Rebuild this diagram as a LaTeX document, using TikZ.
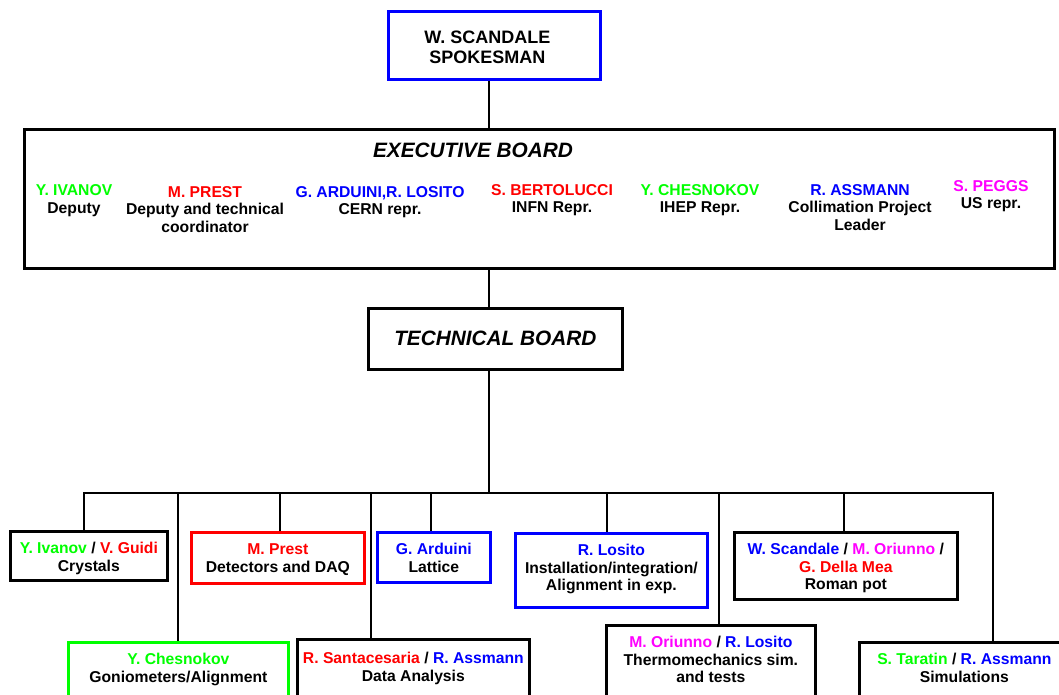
\documentclass[tikz,border=0pt]{standalone}
\usepackage{fontspec}
\setmainfont{Liberation Sans}
\usetikzlibrary{positioning}
\definecolor{eGreen}{RGB}{0,255,0}
\definecolor{eBlue}{RGB}{0,0,255}
\definecolor{eRed}{RGB}{255,0,0}
\definecolor{eMag}{RGB}{255,0,255}
\newcommand{\rows}[1]{\begin{tabular}[t]{@{}c@{}}#1\end{tabular}}
\newcommand{\gn}[1]{\textcolor{eGreen}{#1}}
\newcommand{\bl}[1]{\textcolor{eBlue}{#1}}
\newcommand{\rd}[1]{\textcolor{eRed}{#1}}
\newcommand{\mg}[1]{\textcolor{eMag}{#1}}

\begin{document}
\begin{tikzpicture}[x=1pt,y=-1pt,
    txt/.style={font=\fontsize{15.7}{17.8}\selectfont\bfseries},
    unit/.style={txt, draw, line width=2.7pt, anchor=north west, inner sep=0pt, text height=22pt},
    member/.style={txt, anchor=base, inner sep=0pt},
    board/.style={font=\fontsize{20.8}{24}\selectfont\bfseries\itshape},
    link/.style={line width=2.9pt}]
  \clip (0,0) rectangle (1059,695);
  \useasboundingbox (0,0) rectangle (1059,695);

  % top of the chart
  \node[unit, draw=eBlue, font=\fontsize{18}{20}\selectfont\bfseries, minimum width=212pt, text height=32pt, text depth=36pt] (spokes) at (387,10) {\rows{W. SCANDALE\\SPOKESMAN}\hspace*{14pt}};
  \node[draw, line width=2.7pt, anchor=north west, minimum width=1030pt, minimum height=139pt, inner sep=0pt] (exec) at (23,128) {};
  \node[board, anchor=base] (ebtitle) at (473,158) {EXECUTIVE BOARD};
  \node[member] (ivanov) at (74,196) {\rows{\gn{Y. IVANOV}\\Deputy}};
  \node[member] (prest) at (205,197) {\rows{\rd{M. PREST}\\Deputy and technical\\coordinator}};
  \node[member] (cern) at (380,197) {\rows{\bl{G. ARDUINI,R. LOSITO}\\CERN repr.}};
  \node[member] (infn) at (552,195) {\rows{\rd{S. BERTOLUCCI}\\INFN Repr.}};
  \node[member] (ihep) at (700,195) {\rows{\gn{Y. CHESNOKOV}\\IHEP Repr.}};
  \node[member] (assmann) at (860,195) {\rows{\bl{R. ASSMANN}\\Collimation Project\\Leader}};
  \node[member] (peggs) at (991,191) {\rows{\mg{S. PEGGS}\\US repr.}};
  \node[unit, board, minimum width=254pt, text height=37pt, text depth=24pt] (tech) at (367,307) {TECHNICAL BOARD};

  % working groups
  \node[unit, minimum width=157pt, text depth=27pt] (crys) at (9,530) {\rows{\gn{Y. Ivanov} / \rd{V. Guidi}\\Crystals}};
  \node[unit, draw=eGreen, minimum width=220pt, text depth=80pt] (gonio) at (67,641) {\rows{\gn{Y. Chesnokov}\\Goniometers/Alignment}};
  \node[unit, draw=eRed, minimum width=173pt, text depth=29pt] (det) at (190,531) {\rows{\rd{M. Prest}\\Detectors and DAQ}};
  \node[unit, minimum width=232pt, text height=24pt, text depth=80pt] (data) at (296,638) {\rows{\rd{R. Santacesaria} / \bl{R. Assmann}\\Data Analysis}};
  \node[unit, draw=eBlue, minimum width=113pt, text depth=28pt] (latt) at (376,531) {\rows{\bl{G. Arduini}\\Lattice}};
  \node[unit, draw=eBlue, minimum width=192pt, text depth=52pt] (losito) at (514,532) {\rows{\bl{R. Losito}\\Installation/integration/\\Alignment in exp.}};
  \node[unit, minimum width=209pt, text depth=80pt] (thermo) at (605,624) {\rows{\mg{M. Oriunno} / \bl{R. Losito}\\Thermomechanics sim.\\and tests}};
  \node[unit, minimum width=223pt, text depth=45pt] (roman) at (733,531) {\rows{\bl{W. Scandale} / \mg{M. Oriunno} /\\\rd{G. Della Mea}\\Roman pot}};
  \node[unit, minimum width=210pt, text depth=80pt] (simul) at (858,641) {\rows{\gn{S. Taratin} / \bl{R. Assmann}\\Simulations}};

  % connectors
  \coordinate (hub) at (489,493);
  \draw[link] (spokes.south -| hub) -- (exec.north -| hub);
  \draw[link] (exec.south -| hub) -- (tech.north -| hub);
  \draw[link] (tech.south -| hub) -- (hub);
  \foreach \n/\dx in {crys/75, gonio/111, det/90, data/75, latt/55, losito/93, thermo/114, roman/111, simul/135}
    \draw[link] (hub) -| ([xshift=\dx pt]\n.north west);
\end{tikzpicture}
\end{document}
